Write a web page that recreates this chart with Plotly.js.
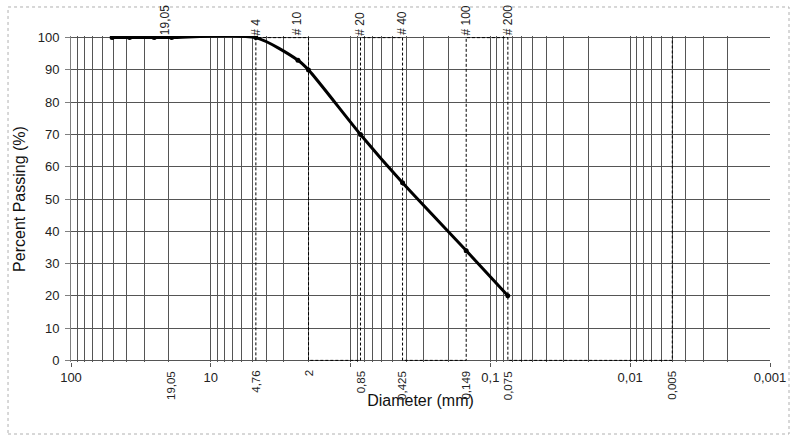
<!DOCTYPE html>
<html>
<head>
<meta charset="utf-8">
<script src="https://cdn.plot.ly/plotly-3.0.1.min.js"></script>
<style>html,body{margin:0;padding:0;background:#fff;}#chart{width:791px;height:437px;}</style>
</head>
<body>
<div id="chart"></div>
<script>
// ---- data ----
const diameters = [50.8, 38.1, 25.4, 19.05, 4.76, 2.38, 2.0, 0.85, 0.425, 0.149, 0.075];
const passing   = [100, 100, 100, 100, 100, 93, 90, 70, 55, 34, 20];

// sieve boundary (dashed square wave)
const sieveX = [4.76, 4.76, 2, 2, 0.85, 0.85, 0.425, 0.425, 0.149, 0.149, 0.075, 0.075, 0.005, 0.005];
const sieveY = [0, 100, 100, 0, 0, 100, 100, 0, 0, 100, 100, 0, 0, 100];

// bottom rotated labels
const bottomLabelX    = [19.05, 4.76, 2, 0.85, 0.425, 0.149, 0.075, 0.005];
const bottomLabelText = ['19,05', '4,76', '2', '0,85', '0,425', '0,149', '0,075', '0,005'];

// top rotated labels
const topLabelX    = [21.3, 4.76, 2.42, 0.85, 0.425, 0.149, 0.075];
const topLabelText = ['19,05', '# 4', '# 10', '# 20', '# 40', '# 100', '# 200'];

// log axis ticks
const decades      = [100, 10, 1, 0.1, 0.01, 0.001];
const decadeLabels = ['100', '10', '', '0,1', '0,01', '0,001'];
const multiples    = [1, 2, 3, 4, 5, 6, 7, 8, 9];
const yTicks       = [0, 10, 20, 30, 40, 50, 60, 70, 80, 90, 100];

// ---- build grid tick arrays ----
const gridVals = [], gridText = [];
decades.forEach((d, i) => {
  multiples.forEach(m => {
    const v = d * m;
    if (m > 1 && i === 0) return; // beyond 100
    gridVals.push(v);
    gridText.push(m === 1 ? decadeLabels[i] : '');
  });
});

const FONT = 'Liberation Sans, Arial, sans-serif';
const gridColor = '#555';

const traces = [
  {
    x: sieveX, y: sieveY, xaxis: 'x2', yaxis: 'y',
    mode: 'lines', type: 'scatter',
    line: {color: '#000', width: 1, dash: '3px,2px'},
    hoverinfo: 'skip', showlegend: false
  },
  {
    x: diameters, y: passing, xaxis: 'x', yaxis: 'y',
    mode: 'lines+markers', type: 'scatter',
    line: {color: '#000', width: 3, shape: 'spline', smoothing: 0.7},
    marker: {color: '#000', size: 5},
    showlegend: false
  }
];

const annotations = [];
bottomLabelX.forEach((v, i) => annotations.push({
  x: Math.log10(v), xref: 'x', y: -0.021, yref: 'paper',
  text: bottomLabelText[i], showarrow: false, textangle: -90,
  xanchor: 'center', yanchor: 'top',
  font: {family: FONT, size: 11.5, color: '#222'}
}));
topLabelX.forEach((v, i) => annotations.push({
  x: Math.log10(v), xref: 'x', y: 0.996, yref: 'paper',
  text: topLabelText[i], showarrow: false, textangle: -90,
  xanchor: 'center', yanchor: 'bottom',
  font: {family: FONT, size: 12, color: '#222'}
}));

const layout = {
  width: 791, height: 437,
  margin: {l: 71, r: 21, t: 36, b: 75},
  paper_bgcolor: '#fff', plot_bgcolor: '#fff',
  font: {family: FONT, color: '#222'},
  showlegend: false,
  xaxis: {
    type: 'log', range: [2, -3],
    tickmode: 'array', tickvals: gridVals, ticktext: gridText,
    ticks: '', showgrid: true, gridcolor: gridColor, gridwidth: 1,
    showline: false, zeroline: false,
    tickfont: {family: FONT, size: 13, color: '#222'},
    ticklabelstandoff: 6,
    title: {text: 'Diameter (mm)', font: {family: FONT, size: 16, color: '#111'}, standoff: 10}
  },
  xaxis2: {
    type: 'log', range: [2, -3], overlaying: 'x', anchor: 'y', side: 'bottom',
    tickmode: 'array', tickvals: decades, ticktext: decades.map(() => ''),
    ticks: 'outside', ticklen: 4, tickcolor: '#555',
    showgrid: false, showline: false, zeroline: false, showticklabels: false
  },
  yaxis: {
    range: [-0.5, 100.5],
    tickmode: 'array', tickvals: yTicks,
    ticks: 'outside', ticklen: 5, tickcolor: '#808080',
    showgrid: true, gridcolor: gridColor, gridwidth: 1,
    showline: true, linecolor: '#808080', zeroline: false,
    tickfont: {family: FONT, size: 13, color: '#222'},
    ticklabelstandoff: 3,
    title: {text: 'Percent Passing (%)', font: {family: FONT, size: 16, color: '#111'}, standoff: 8}
  },
  annotations: annotations,
  shapes: [{
    type: 'rect', xref: 'paper', yref: 'paper',
    x0: -0.0901, x1: 1.0272, y0: -0.2209, y1: 1.089,
    line: {color: '#b0b0b0', width: 1, dash: 'dot'}, layer: 'below'
  }]
};

Plotly.newPlot('chart', traces, layout, {displayModeBar: false, staticPlot: true});
</script>
</body>
</html>
